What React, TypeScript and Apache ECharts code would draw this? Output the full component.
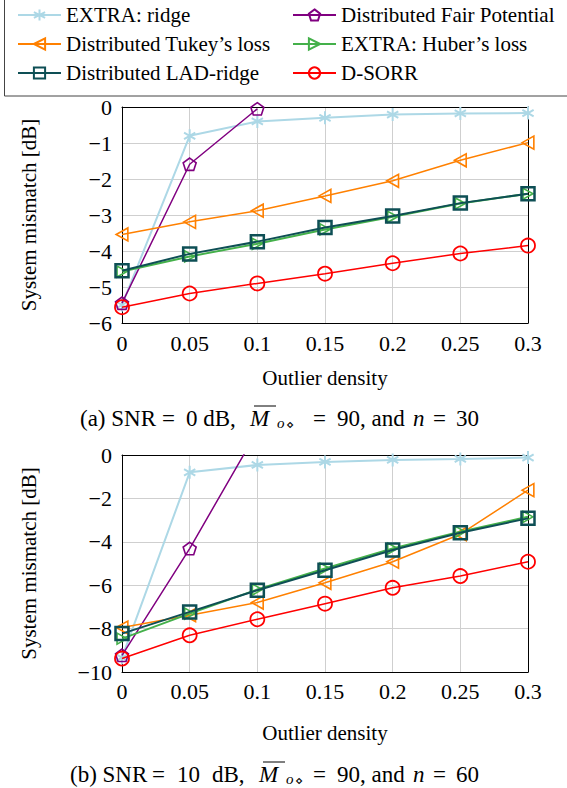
import React, { useEffect, useRef } from "react";
import * as echarts from "echarts";

const outlierDensity = [0, 0.05, 0.1, 0.15, 0.2, 0.25, 0.3];

// Panel (a): SNR = 0 dB, n = 30
const aExtraRidge = [-5.5, -0.8, -0.4, -0.3, -0.21, -0.18, -0.17];
const aFairPotential = [-5.45, -1.59, -0.05];
const aTukey = [-3.54, -3.19, -2.88, -2.47, -2.05, -1.48, -0.99];
const aHuber = [-4.57, -4.15, -3.8, -3.4, -3.05, -2.68, -2.41];
const aLAD = [-4.55, -4.08, -3.74, -3.35, -3.03, -2.67, -2.41];
const aDSORR = [-5.56, -5.18, -4.9, -4.63, -4.34, -4.07, -3.85];

// Panel (b): SNR = 10 dB, n = 60
const bExtraRidge = [-9.34, -0.8, -0.46, -0.32, -0.23, -0.18, -0.12];
const bFairPotential = [-9.23, -4.31, 1.1];
const bTukey = [-7.95, -7.38, -6.8, -5.89, -4.92, -3.65, -1.62];
const bHuber = [-8.46, -7.31, -6.2, -5.23, -4.31, -3.54, -2.85];
const bLAD = [-8.23, -7.23, -6.23, -5.31, -4.38, -3.58, -2.92];
const bDSORR = [-9.38, -8.31, -7.57, -6.85, -6.12, -5.58, -4.92];

const xTicks = { min: 0, max: 0.3, interval: 0.05 };
const yTicksA = { min: -6, max: 0, interval: 1 };
const yTicksB = { min: -10, max: 0, interval: 2 };

const names = [
  "EXTRA: ridge",
  "Distributed Fair Potential",
  "Distributed Tukey’s loss",
  "EXTRA: Huber’s loss",
  "Distributed LAD-ridge",
  "D-SORR",
];

// caption pieces: [text, left x, kind]
const captionA: [string, number, string][] = [
  ["(a) SNR", 80, "t"], ["=", 162, "t"], ["0 dB,", 186, "t"], ["M", 250, "i"],
  ["o", 277, "s"], ["\u22C4", 286, "d"], ["=", 313, "t"], ["90, and", 337, "t"],
  ["n", 413, "i"], ["=", 433, "t"], ["30", 456, "t"],
];
const captionB: [string, number, string][] = [
  ["(b) SNR", 70, "t"], ["=", 152, "t"], ["10", 177, "t"], ["dB,", 212, "t"], ["M", 259, "i"],
  ["o", 286, "s"], ["\u22C4", 295, "d"], ["=", 313, "t"], ["90, and", 337, "t"],
  ["n", 413, "i"], ["=", 433, "t"], ["60", 456, "t"],
];

const SERIF = "Liberation Serif";

const ASTERISK = "path://M0,-1L0,1M-0.866,-0.5L0.866,0.5M-0.866,0.5L0.866,-0.5";
const PENTAGON = "path://M0,-1L0.951,-0.309L0.588,0.809L-0.588,0.809L-0.951,-0.309Z";
const TRI_LEFT = "path://M-1,0L0.8,-1L0.8,1Z";
const TRI_RIGHT = "path://M1,0L-0.8,-1L-0.8,1Z";

const styles = [
  { color: "#add8e6", symbol: ASTERISK, size: 13, lw: 2, bw: 2 },
  { color: "#800080", symbol: PENTAGON, size: 13, lw: 1.5, bw: 1.6 },
  { color: "#ff8000", symbol: TRI_LEFT, size: 13, lw: 1.5, bw: 1.6 },
  { color: "#44b04a", symbol: TRI_RIGHT, size: 11, lw: 2, bw: 1.6 },
  { color: "#0e4f55", symbol: "rect", size: 13, lw: 2, bw: 2.5 },
  { color: "#ff0000", symbol: "circle", size: 14, lw: 1.5, bw: 1.8 },
];

const fmtX = (v: number) => String(+v.toFixed(2));
const fmtY = (v: number) => (v < 0 ? "\u2212" + Math.abs(v) : String(v));

function mkSeries(data: number[][], gridIdx: number) {
  return data.map((vals, i) => {
    const s = styles[i];
    return {
      name: names[i],
      type: "line",
      xAxisIndex: gridIdx * 2,
      yAxisIndex: gridIdx * 2,
      data: vals.map((v, k) => [outlierDensity[k], v]),
      symbol: s.symbol,
      symbolSize: s.size,
      symbolKeepAspect: true,
      showAllSymbol: true,
      clip: true,
      lineStyle: { color: s.color, width: s.lw },
      itemStyle: { color: "rgba(0,0,0,0)", borderColor: s.color, borderWidth: s.bw },
      emphasis: { disabled: true },
      z: 2 + i,
    };
  });
}

function axesFor(gridIdx: number, yt: { min: number; max: number; interval: number }, labelMargin: number, nameGap: number) {
  const xMain = {
    type: "value",
    gridIndex: gridIdx,
    ...xTicks,
    name: "Outlier density",
    nameLocation: "middle",
    nameGap,
    nameTextStyle: { fontFamily: SERIF, fontSize: 21, color: "#000" },
    axisLine: { show: true, onZero: false, lineStyle: { color: "#000", width: 1 } },
    axisTick: { show: false },
    axisLabel: { formatter: fmtX, fontFamily: SERIF, fontSize: 22, color: "#000", margin: labelMargin },
    splitLine: { show: true, lineStyle: { color: "#cfcfcf", width: 1 } },
  };
  const xTop = {
    type: "value",
    gridIndex: gridIdx,
    position: "top",
    ...xTicks,
    axisLine: { show: true, onZero: false, lineStyle: { color: "#000", width: 1 } },
    axisTick: { show: false },
    axisLabel: { show: false },
    splitLine: { show: false },
  };
  const yMain = {
    type: "value",
    gridIndex: gridIdx,
    ...yt,
    name: "System mismatch [dB]",
    nameLocation: "middle",
    nameGap: 83,
    nameTextStyle: { fontFamily: SERIF, fontSize: 21, color: "#000" },
    axisLine: { show: true, onZero: false, lineStyle: { color: "#000", width: 1 } },
    axisTick: { show: false },
    axisLabel: { formatter: fmtY, fontFamily: SERIF, fontSize: 22, color: "#000", margin: 10 },
    splitLine: { show: true, lineStyle: { color: "#cfcfcf", width: 1 } },
  };
  const yRight = {
    type: "value",
    gridIndex: gridIdx,
    position: "right",
    ...yt,
    axisLine: { show: true, onZero: false, lineStyle: { color: "#000", width: 1 } },
    axisTick: { show: false },
    axisLabel: { show: false },
    splitLine: { show: false },
  };
  return { x: [xMain, xTop], y: [yMain, yRight] };
}

function captionGraphics(pieces: [string, number, string][], cy: number) {
  return pieces.map(([text, x, kind]) => {
    const base: any = { text, fontFamily: SERIF, fill: "#000", verticalAlign: "middle", align: "left" };
    if (kind === "t") Object.assign(base, { fontSize: 23 });
    if (kind === "i") Object.assign(base, { fontSize: 23, fontStyle: "italic" });
    if (kind === "s") Object.assign(base, { fontSize: 15, fontStyle: "italic" });
    if (kind === "d") Object.assign(base, { fontSize: 13, fontFamily: "DejaVu Sans" });
    const dy = kind === "s" ? 5 : kind === "d" ? 6 : 0;
    return { type: "text", x, y: cy + dy, style: base, silent: true };
  });
}

export default function App() {
  const ref = useRef<HTMLDivElement>(null);
  useEffect(() => {
    if (!ref.current) return;
    const chart = echarts.init(ref.current, null, { renderer: "svg" });
    const a = axesFor(0, yTicksA, 9, 44);
    const b = axesFor(1, yTicksB, 8, 50);
    const legendCommon = {
      orient: "vertical",
      top: 4,
      itemWidth: 43,
      itemHeight: 14,
      itemGap: 7,
      textStyle: { fontFamily: SERIF, fontSize: 21, color: "#000", lineHeight: 22 },
      selectedMode: false,
      padding: 0,
    };
    chart.setOption({
      animation: false,
      backgroundColor: "#fff",
      textStyle: { fontFamily: SERIF, color: "#000" },
      grid: [
        { left: 122, right: 39, top: 107, height: 216 },
        { left: 122, right: 39, top: 455, height: 217 },
      ],
      xAxis: [...a.x, ...b.x],
      yAxis: [...a.y, ...b.y],
      legend: [
        { ...legendCommon, left: 17, data: [names[0], names[2], names[4]] },
        { ...legendCommon, left: 292, data: [names[1], names[3], names[5]] },
      ],
      graphic: [
        {
          type: "rect",
          shape: { x: 4.5, y: -2, width: 600, height: 98 },
          style: { fill: "none", stroke: "#444", lineWidth: 1 },
          silent: true,
        },
        ...captionGraphics(captionA, 418),
        {
          type: "line",
          shape: { x1: 254, y1: 406, x2: 276, y2: 406 },
          style: { stroke: "#000", lineWidth: 1 },
          silent: true,
        },
        ...captionGraphics(captionB, 774),
        {
          type: "line",
          shape: { x1: 263, y1: 762, x2: 285, y2: 762 },
          style: { stroke: "#000", lineWidth: 1 },
          silent: true,
        },
      ],
      series: [
        ...mkSeries([aExtraRidge, aFairPotential, aTukey, aHuber, aLAD, aDSORR], 0),
        ...mkSeries([bExtraRidge, bFairPotential, bTukey, bHuber, bLAD, bDSORR], 1),
      ],
    });
    return () => chart.dispose();
  }, []);
  return (
    <div
      ref={ref}
      style={{ position: "fixed", left: 0, top: 0, width: 567, height: 788, background: "#fff" }}
    />
  );
}
